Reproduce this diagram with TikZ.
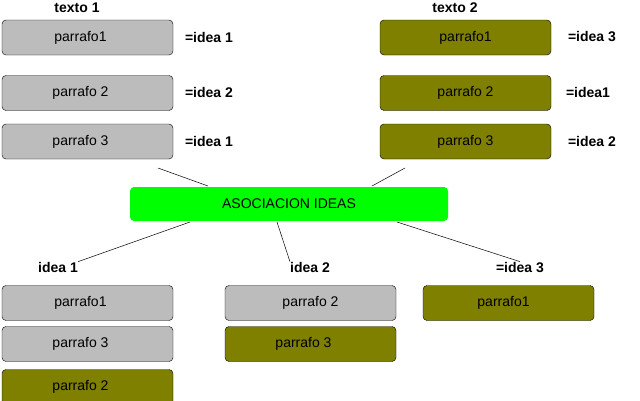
\documentclass[tikz,border=0pt]{standalone}
\usepackage{fontspec}
\setmainfont{Liberation Sans}
\begin{document}
\begin{tikzpicture}[x=1pt,y=-1pt,
  box/.style={draw=black,rounded corners=4pt,minimum width=171pt,minimum height=35pt,inner sep=0pt,font=\fontsize{14}{16}\selectfont},
  grey/.style={box,fill=lightgray!95!gray},
  olive/.style={box,fill={rgb,255:red,128;green,128;blue,0}},
  lab/.style={font=\bfseries\fontsize{14}{16}\selectfont,inner sep=0pt},
  ln/.style={draw=black,line width=0.5pt}]
\useasboundingbox (0,0) rectangle (640,400);
\node[lab] (t1) at (77,8) {texto 1};
\node[lab] (t2) at (455,8) {texto 2};
\node[grey] (a1) at (87.5,37.5) {\hspace*{-14pt}parrafo1};
\node[grey] (a2) at (87.5,93) {\hspace*{-14pt}parrafo 2};
\node[grey] (a3) at (87.5,141.5) {\hspace*{-14pt}parrafo 3};
\node[lab] (la1) at (209,37) {=idea 1};
\node[lab] (la2) at (209,92) {=idea 2};
\node[lab] (la3) at (209,141) {=idea 1};
\node[olive] (b1) at (465.5,37.5) {parrafo1};
\node[olive] (b2) at (465.5,93) {parrafo 2};
\node[olive] (b3) at (465.5,141.5) {parrafo 3};
\node[lab] (lb1) at (592,37) {=idea 3};
\node[lab] (lb2) at (588,92) {=idea1};
\node[lab] (lb3) at (592,141) {=idea 2};
\node[fill={rgb,255:red,0;green,255;blue,0},rounded corners=4pt,minimum width=318pt,minimum height=34pt,inner sep=0pt,font=\fontsize{14}{16}\selectfont] (c) at (289,204) {ASOCIACION IDEAS};
\node[lab] (i1) at (58,267) {idea 1};
\node[lab] (i2) at (310,267) {idea 2};
\node[lab] (i3) at (520,267) {=idea 3};
\coordinate (p1) at (158,168); \coordinate (p2) at (208,186);
\coordinate (p3) at (405,168); \coordinate (p4) at (372,186);
\draw[ln] (p1) -- (p2);
\draw[ln] (p3) -- (p4);
\draw[ln] (190,222) -- (i1.north east);
\draw[ln] (277,222) -- (i2.north west);
\draw[ln] (397,222) -- (i3.north);
\node[grey] (d1) at (87.5,303) {\hspace*{-14pt}parrafo1};
\node[grey] (d2) at (87.5,344) {\hspace*{-14pt}parrafo 3};
\node[olive] (d3) at (87.5,387) {\hspace*{-14pt}parrafo 2};
\node[grey] (e1) at (310.5,303) {parrafo 2};
\node[olive] (e2) at (310.5,344) {\hspace*{-14pt}parrafo 3};
\node[olive] (f1) at (508.5,303) {\hspace*{-10pt}parrafo1};
\end{tikzpicture}
\end{document}
